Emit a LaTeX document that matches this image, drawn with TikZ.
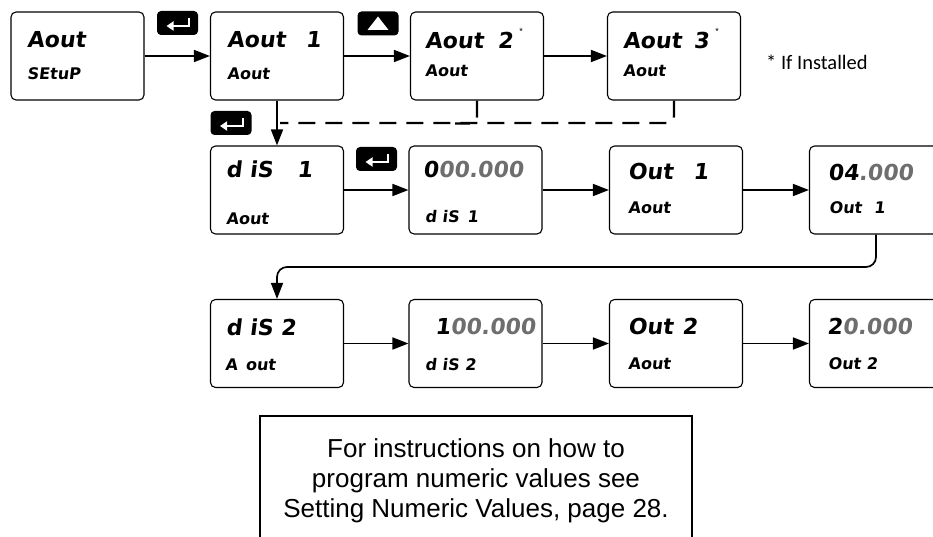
\documentclass[tikz,border=0pt]{standalone}
\usepackage{fontspec}
\setmainfont{Liberation Sans}
\newfontfamily\lcd[UprightFont={* Bold},FakeSlant=0.12]{DejaVu Sans}
\newfontfamily\carlitofont{Carlito}
\usetikzlibrary{arrows.meta}
\definecolor{dimgr}{RGB}{110,110,110}
\tikzset{
  scr/.style={draw, line width=1.1pt, rounded corners=5pt, minimum width=133pt, minimum height=88pt, inner sep=0pt},
  arr/.style={line width=1.7pt, -{Triangle[length=16pt,width=12pt]}},
  dashln/.style={line width=2.2pt, dash pattern=on 17pt off 10pt},
  keybox/.style={fill=black, rounded corners=4pt, minimum width=41pt, minimum height=24pt, inner sep=0pt},
  keysym/.style={draw=white, line width=2pt, -{Triangle[length=7pt,width=9pt]}},
  big/.style={font=\lcd\fontsize{22}{22}\selectfont, anchor=west, inner sep=0pt},
  sml/.style={font=\lcd\fontsize{16}{16}\selectfont, anchor=west, inner sep=0pt},
  star/.style={font=\fontsize{9}{9}\selectfont, inner sep=0pt},
}
\begin{document}
\begin{tikzpicture}[x=1pt,y=-1pt]
\useasboundingbox (0,0) rectangle (933,537);
% row 1 screens
\node[scr] (a1) at (77.5,56) {};
\node[scr] (b2) at (277,56) {};
\node[scr] (b3) at (477,56) {};
\node[scr] (b4) at (674,56) {};
% row 2 screens
\node[scr] (c1) at (277,190) {};
\node[scr] (c2) at (475.5,190) {};
\node[scr] (c3) at (676,190) {};
\node[scr] (c4) at (876,190) {};
% row 3 screens
\node[scr] (d1) at (277,343.5) {};
\node[scr] (d2) at (475.5,343.5) {};
\node[scr] (d3) at (676,343.5) {};
\node[scr] (d4) at (876,343.5) {};
% texts row 1
\node[big] (a1t) at (27,40) {Aout};
\node[sml] (a1s) at (27,74) {SEtuP};
\node[big] (b2t) at (227,40) {Aout\hspace{20pt}1};
\node[sml] (b2s) at (227,74) {Aout};
\node[big] (b3t) at (425,40) {Aout\hspace{14pt}2};
\node[star] (b3a) at (521,31) {*};
\node[sml] (b3s) at (425,71) {Aout};
\node[big] (b4t) at (623,40) {Aout\hspace{12pt}3};
\node[star] (b4a) at (717,31) {*};
\node[sml] (b4s) at (623,71) {Aout};
\node[font=\carlitofont\fontsize{20.5}{20.5}\selectfont, anchor=west, inner sep=0pt] (inst) at (766,62) {* If Installed};
% texts row 2
\node[big] (c1t) at (226,169) {d iS\hspace{24pt}1};
\node[sml] (c1s) at (226,219) {Aout};
\node[big] (c2t) at (423,169) {0\textcolor{dimgr}{00.000}};
\node[sml] (c2s) at (425,217) {d iS\hspace{8pt}1};
\node[big] (c3t) at (628,171) {Out\hspace{20pt}1};
\node[sml] (c3s) at (628,208) {Aout};
\node[big] (c4t) at (828,172) {04\textcolor{dimgr}{.000}};
\node[sml] (c4s) at (829,208) {Out\hspace{12pt}1};
% texts row 3
\node[big] (d1t) at (226,327) {d iS 2};
\node[sml] (d1s) at (225,365) {A\hspace{8pt}out};
\node[big] (d2t) at (435,326) {1\textcolor{dimgr}{00.000}};
\node[sml] (d2s) at (425,365) {d iS 2};
\node[big] (d3t) at (628,326) {Out\hspace{9pt}2};
\node[sml] (d3s) at (628,364) {Aout};
\node[big] (d4t) at (827,326) {2\textcolor{dimgr}{0.000}};
\node[sml] (d4s) at (828,364) {Out 2};
% keys
\node[keybox] (k1) at (177.5,23) {};
\draw[keysym] ([shift={(11.5,-5)}]k1.center) -- ([shift={(11.5,3)}]k1.center) -- ([shift={(-11,3)}]k1.center);
\node[keybox] (k2) at (378,23.5) {};
\fill[white] ([shift={(0,-7)}]k2.center) -- ([shift={(10.5,6.5)}]k2.center) -- ([shift={(-10.5,6.5)}]k2.center) -- cycle;
\node[keybox] (k3) at (231,123) {};
\draw[keysym] ([shift={(11.5,-5)}]k3.center) -- ([shift={(11.5,3)}]k3.center) -- ([shift={(-11,3)}]k3.center);
\node[keybox] (k4) at (376.5,159) {};
\draw[keysym] ([shift={(11.5,-5)}]k4.center) -- ([shift={(11.5,3)}]k4.center) -- ([shift={(-11,3)}]k4.center);
% connectors row 1
\draw[arr] (a1.east) -- (b2.west);
\draw[arr] (b2.east) -- (b3.west);
\draw[arr] (b3.east) -- (b4.west);
\draw[arr] (b2.south) -- (c1.north);
\coordinate (j) at (280,123);
\draw[dashln, rounded corners=7pt] (b4.south) |- (j);
\draw[dashln, rounded corners=7pt] (b3.south) |- ++(-22,23);
% row 2
\draw[arr] (c1.east) -- (c2.west);
\draw[arr] (c2.east) -- (c3.west);
\draw[arr] (c3.east) -- (c4.west);
\coordinate (lp) at (277,267);
\draw[arr, rounded corners=10pt] (c4.south) |- (lp) -- (d1.north);
% row 3
\draw[arr] (d1.east) -- (d2.west);
\draw[arr] (d2.east) -- (d3.west);
\draw[arr] (d3.east) -- (d4.west);
% note
\node[draw, line width=1.5pt, minimum width=432pt, minimum height=130pt, inner sep=0pt, align=center,
      font=\fontsize{26}{30}\selectfont] (note) at (476,481)
  {For instructions on how to\\program numeric values see\\Setting Numeric Values, page 28.};
\end{tikzpicture}
\end{document}
